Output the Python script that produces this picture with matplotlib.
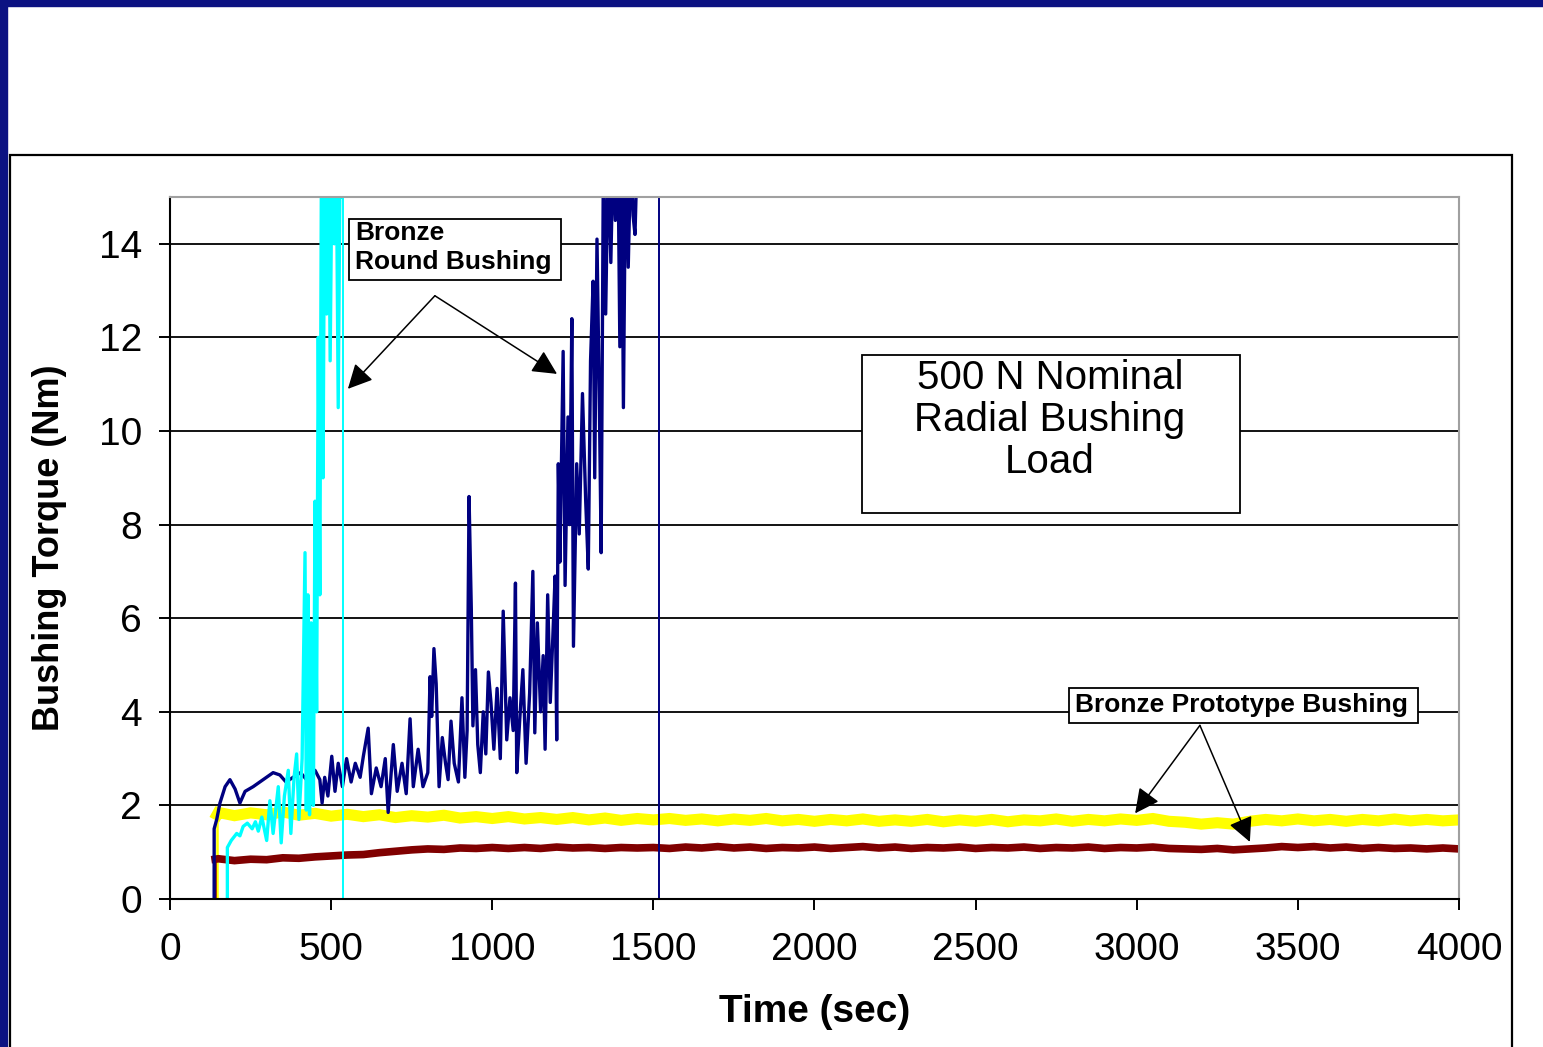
import matplotlib
matplotlib.use("Agg")
import matplotlib.pyplot as plt
from matplotlib.patches import Rectangle

plt.rcParams['font.family'] = ['Liberation Sans', 'DejaVu Sans']

# Bronze round bushing, run 1 (navy)
navy_t = [137, 137, 145, 155, 171, 186, 202, 217, 233, 258, 289, 320, 341, 360,
          382, 405, 430, 450, 465, 472, 480, 490, 502, 512, 522, 535, 548, 562,
          575, 590, 600, 615, 625, 640, 655, 668, 677, 693, 705, 720, 733, 745,
          755, 770, 785, 800, 807, 812, 819, 826, 835, 845, 855, 863, 872, 882,
          895, 906, 915, 922, 928, 935, 940, 948, 955, 963, 972, 980, 988, 996,
          1005, 1015, 1025, 1034, 1045, 1055, 1065, 1072, 1076, 1085, 1095, 1105,
          1116, 1126, 1132, 1140, 1150, 1158, 1164, 1172, 1180, 1188, 1195, 1200,
          1205, 1210, 1220, 1226, 1235, 1240, 1247, 1252, 1262, 1270, 1280, 1290,
          1298, 1305, 1313, 1318, 1325, 1332, 1338, 1345, 1352, 1360, 1368, 1375,
          1382, 1390, 1396, 1402, 1407, 1414, 1422, 1430, 1437, 1443, 1450, 1517,
          1517]
navy_v = [0, 1.5, 1.7, 2.05, 2.4, 2.55, 2.35, 2.05, 2.3, 2.4, 2.55, 2.7, 2.65, 2.5,
          2.6, 2.7, 2.5, 2.75, 2.55, 2.05, 2.6, 2.2, 3.05, 2.3, 2.9, 2.4, 3.0, 2.5,
          2.9, 2.6, 3.05, 3.65, 2.25, 2.8, 2.4, 3.0, 1.85, 3.3, 2.3, 2.9, 2.25, 3.85,
          2.4, 3.2, 2.4, 2.7, 4.75, 3.9, 5.35, 4.6, 2.4, 3.45, 2.9, 2.55, 3.8, 2.9,
          2.5, 4.3, 2.6, 3.6, 8.6, 6.2, 3.7, 4.9, 3.3, 2.7, 4.0, 3.1, 4.85, 4.2,
          3.2, 4.5, 3.0, 6.15, 3.4, 4.3, 3.6, 6.75, 2.7, 3.8, 4.9, 2.9,
          4.4, 7.0, 3.55, 5.9, 4.0, 5.2, 3.2, 6.5, 4.2, 5.6, 6.9, 3.4,
          9.3, 7.2, 11.7, 6.7, 10.3, 8.0, 12.4, 5.4, 9.3, 7.8, 10.8, 8.5,
          7.05, 11.5, 13.2, 9.0, 14.1, 10.8, 7.4, 16, 12.5, 16, 13.6, 16,
          14.5, 16, 11.8, 15.5, 10.5, 16, 13.5, 16, 14.6, 14.2, 16, 16,
          0]

# Bronze round bushing, run 2 (cyan)
cyan_t = [178, 178, 190, 207, 217, 227, 240, 255, 265, 274, 285, 300, 310, 320,
          336, 345, 355, 367, 375, 385, 393, 400, 410, 419, 423, 428, 433, 438,
          445, 450, 455, 460, 465, 470, 475, 480, 486, 492, 497, 503, 510, 516,
          522, 528, 533, 537, 537]
cyan_v = [0, 1.1, 1.25, 1.4, 1.35, 1.55, 1.62, 1.5, 1.65, 1.45, 1.75, 1.25, 2.1, 1.4,
          2.4, 1.2, 2.2, 2.75, 1.4, 2.6, 3.1, 1.7, 3.0, 7.4, 1.9, 6.5, 1.8, 5.9,
          2.0, 8.5, 4.0, 12.0, 6.5, 16, 9.0, 16, 12.5, 16, 11.5, 16, 14, 16,
          10.5, 16, 15, 16, 0]

# Bronze prototype bushing (yellow and maroon)
yellow_t = [146, 146, 150, 200, 250, 300, 350, 400, 450, 500, 550, 600, 650, 700,
            750, 800, 850, 900, 950, 1000, 1050, 1100, 1150, 1200, 1250, 1300,
            1350, 1400, 1450, 1500, 1550, 1600, 1650, 1700, 1750, 1800, 1850,
            1900, 1950, 2000, 2050, 2100, 2150, 2200, 2250, 2300, 2350, 2400,
            2450, 2500, 2550, 2600, 2650, 2700, 2750, 2800, 2850, 2900, 2950,
            3000, 3050, 3100, 3150, 3200, 3250, 3300, 3350, 3400, 3450, 3500,
            3550, 3600, 3650, 3700, 3750, 3800, 3850, 3900, 3950, 4000]
yellow_v = [0, 1.8, 1.85, 1.78, 1.84, 1.8, 1.86, 1.79, 1.83, 1.77, 1.81, 1.76, 1.8, 1.74,
            1.78, 1.75, 1.79, 1.73, 1.76, 1.72, 1.76, 1.71, 1.74, 1.7, 1.74, 1.69,
            1.73, 1.68, 1.72, 1.69, 1.72, 1.68, 1.71, 1.67, 1.71, 1.68, 1.72,
            1.67, 1.7, 1.66, 1.7, 1.67, 1.71, 1.66, 1.69, 1.66, 1.7, 1.65,
            1.69, 1.66, 1.7, 1.65, 1.69, 1.67, 1.71, 1.66, 1.7, 1.67, 1.71,
            1.68, 1.72, 1.66, 1.64, 1.6, 1.63, 1.6, 1.66, 1.7, 1.67, 1.71,
            1.67, 1.7, 1.66, 1.7, 1.67, 1.71, 1.67, 1.7, 1.67, 1.69]

maroon_t = [140, 140, 150, 200, 250, 300, 350, 400, 450, 500, 550, 600, 650, 700,
            750, 800, 850, 900, 950, 1000, 1050, 1100, 1150, 1200, 1250, 1300,
            1350, 1400, 1450, 1500, 1550, 1600, 1650, 1700, 1750, 1800, 1850,
            1900, 1950, 2000, 2050, 2100, 2150, 2200, 2250, 2300, 2350, 2400,
            2450, 2500, 2550, 2600, 2650, 2700, 2750, 2800, 2850, 2900, 2950,
            3000, 3050, 3100, 3150, 3200, 3250, 3300, 3350, 3400, 3450, 3500,
            3550, 3600, 3650, 3700, 3750, 3800, 3850, 3900, 3950, 4000]
maroon_v = [0, 0.85, 0.86, 0.82, 0.85, 0.84, 0.88, 0.87, 0.9, 0.92, 0.94, 0.95, 0.99, 1.02,
            1.05, 1.07, 1.06, 1.09, 1.08, 1.1, 1.08, 1.1, 1.08, 1.11, 1.09, 1.1,
            1.08, 1.1, 1.09, 1.1, 1.08, 1.11, 1.09, 1.12, 1.09, 1.11, 1.08,
            1.1, 1.09, 1.11, 1.08, 1.1, 1.12, 1.09, 1.11, 1.08, 1.1, 1.09,
            1.11, 1.08, 1.1, 1.09, 1.11, 1.08, 1.1, 1.09, 1.11, 1.08, 1.1,
            1.09, 1.11, 1.08, 1.07, 1.06, 1.08, 1.05, 1.07, 1.09, 1.12, 1.1,
            1.12, 1.09, 1.11, 1.08, 1.1, 1.08, 1.09, 1.07, 1.09, 1.07]

x_ticks = [0, 500, 1000, 1500, 2000, 2500, 3000, 3500, 4000]
y_ticks = [0, 2, 4, 6, 8, 10, 12, 14]

W, H = 1543, 1047
fig = plt.figure(figsize=(W / 100, H / 100), dpi=100)
fig.patch.set_facecolor('white')

# slide border and chart frame
band = '#0c1282'
fig.patches.append(Rectangle((0, 1 - 6 / H), 1, 6 / H, transform=fig.transFigure,
                             color=band, zorder=0))
fig.patches.append(Rectangle((0, 0), 7 / W, 1, transform=fig.transFigure,
                             color=band, zorder=0))
fig.patches.append(Rectangle((10 / W, -0.02), 1502 / W, (H - 155) / H + 0.02,
                             transform=fig.transFigure, fill=False,
                             edgecolor='black', lw=1.6, zorder=0))

ax = fig.add_axes([170 / W, (H - 899) / H, 1289 / W, 702 / H])
ax.set_xlim(0, 4000)
ax.set_ylim(0, 15)
ax.set_xticks(x_ticks)
ax.set_yticks(y_ticks)
ax.yaxis.grid(True, color='black', lw=1.3)
ax.set_axisbelow(True)
for s in ['top', 'right']:
    ax.spines[s].set_color('#a0a0a0')
    ax.spines[s].set_linewidth(1.5)
for s in ['left', 'bottom']:
    ax.spines[s].set_color('black')
    ax.spines[s].set_linewidth(1.5)
ax.tick_params(axis='both', direction='out', length=8, width=1.4, labelsize=28)
ax.tick_params(axis='y', pad=12)
ax.tick_params(axis='x', pad=16)

# series: thick noisy part, thin start / end steps
ax.plot(yellow_t[:2], yellow_v[:2], color='#ffff00', lw=1.8, zorder=2)
ax.plot(yellow_t[1:], yellow_v[1:], color='#ffff00', lw=8, zorder=2,
        solid_joinstyle='miter')
ax.plot(maroon_t[:2], maroon_v[:2], color='#800000', lw=1.8, zorder=2.1)
ax.plot(maroon_t[1:], maroon_v[1:], color='#800000', lw=5.5, zorder=2.1,
        solid_joinstyle='miter')
ax.plot(navy_t[:-2], navy_v[:-2], color='#000080', lw=2.4, zorder=2.2)
ax.plot(navy_t[-3:], navy_v[-3:], color='#000080', lw=1.4, zorder=2.2)
ax.plot(cyan_t[:-1], cyan_v[:-1], color='#00ffff', lw=2.4, zorder=2.3)
ax.plot(cyan_t[-2:], cyan_v[-2:], color='#00ffff', lw=1.4, zorder=2.3)

# annotation boxes
ax.add_patch(Rectangle((0.1389, 0.8818), 0.1645, 0.0869, transform=ax.transAxes,
                       facecolor='white', edgecolor='black', lw=1.3, zorder=4))
ax.text(0.1435, 0.928, 'Bronze\nRound Bushing', transform=ax.transAxes,
        ha='left', va='center', fontsize=19, fontweight='bold', linespacing=1.3,
        zorder=5)

ax.add_patch(Rectangle((0.5369, 0.5499), 0.2933, 0.2251, transform=ax.transAxes,
                       facecolor='white', edgecolor='black', lw=1.3, zorder=4))
ax.text(0.6827, 0.682, '500 N Nominal\nRadial Bushing\nLoad', transform=ax.transAxes,
        ha='center', va='center', fontsize=29, linespacing=1.13, zorder=5)

ax.add_patch(Rectangle((0.6974, 0.2507), 0.2708, 0.0499, transform=ax.transAxes,
                       facecolor='white', edgecolor='black', lw=1.3, zorder=4))
ax.text(0.8313, 0.2764, 'Bronze Prototype Bushing', transform=ax.transAxes,
        ha='center', va='center', fontsize=19, fontweight='bold', zorder=5)

arrow = dict(arrowstyle='-|>,head_length=0.5,head_width=0.25', color='black',
             lw=1.1, mutation_scale=30, shrinkA=0, shrinkB=0)
for tip in [(552, 10.9), (1201, 11.22)]:
    ax.annotate('', xy=tip, xytext=(822, 12.89), arrowprops=arrow, zorder=6)
for tip in [(2995, 1.83), (3351, 1.22)]:
    ax.annotate('', xy=tip, xytext=(3196, 3.71), arrowprops=arrow, zorder=6)

fig.text(50 / W, 1 - 548 / H, 'Bushing Torque (Nm)', rotation=90, ha='center',
         va='center', fontsize=26, fontweight='bold')
fig.text(815 / W, 1 - 1012 / H, 'Time (sec)', ha='center', va='center',
         fontsize=28, fontweight='bold')

fig.savefig('out.png', dpi=100)
